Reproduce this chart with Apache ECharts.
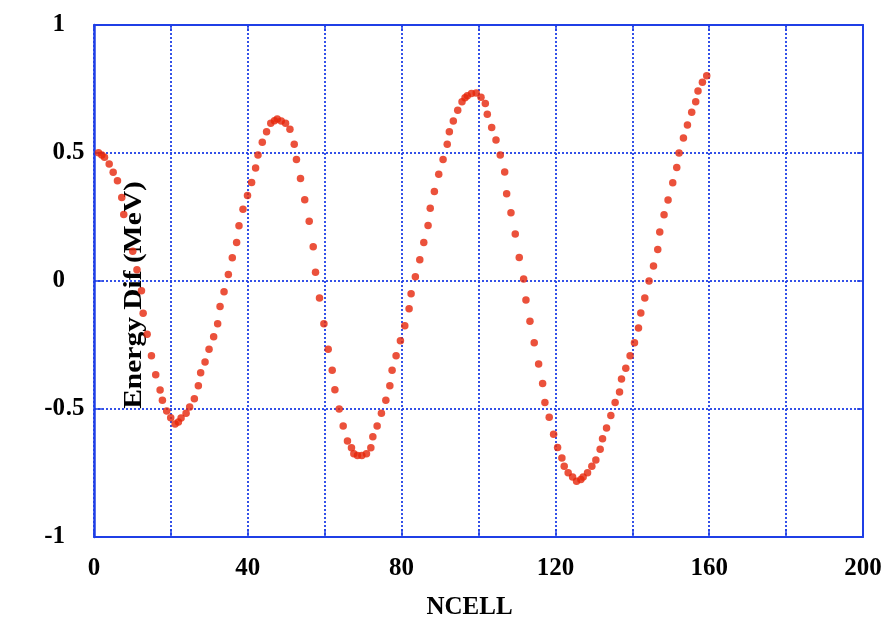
<!DOCTYPE html>
<html>
<head>
<meta charset="utf-8">
<script src="https://cdn.jsdelivr.net/npm/echarts@6/dist/echarts.min.js"></script>
<style>
  html, body { margin: 0; padding: 0; background: #fff; }
  #chart { width: 883px; height: 620px; }
</style>
</head>
<body>
<div id="chart"></div>
<script>
// Cell index of each sample
const ncell = [
  1.17, 2.03, 2.73, 3.95, 4.99, 6.10, 7.22, 7.74, 10.08, 11.17,
  12.34, 12.78, 13.82, 14.94, 16.05, 17.19, 17.79, 18.91, 19.95, 21.09,
  21.95, 22.65, 23.95, 24.88, 26.10, 27.14, 27.74, 28.88, 29.92, 31.12,
  32.16, 32.78, 33.82, 34.94, 35.97, 37.09, 37.71, 38.75, 39.92, 40.99,
  42.03, 42.65, 43.77, 44.88, 45.97, 46.94, 47.66, 48.70, 49.82, 50.96,
  52.08, 52.65, 53.71, 54.81, 55.97, 57.01, 57.61, 58.65, 59.79, 60.91,
  61.95, 62.65, 63.77, 64.81, 65.92, 66.96, 67.58, 68.52, 69.66, 70.86,
  72.00, 72.52, 73.64, 74.75, 75.90, 76.94, 77.53, 78.57, 79.69, 80.83,
  81.95, 82.47, 83.58, 84.73, 85.77, 86.88, 87.45, 88.52, 89.66, 90.78,
  91.87, 92.42, 93.45, 94.60, 95.71, 96.49, 97.09, 98.18, 99.40, 100.65,
  101.77, 102.29, 103.43, 104.55, 105.66, 106.81, 107.32, 108.44, 109.56, 110.60,
  111.74, 112.34, 113.38, 114.49, 115.64, 116.68, 117.27, 118.39, 119.53, 120.57,
  121.69, 122.29, 123.32, 124.47, 125.51, 126.62, 127.22, 128.36, 129.48, 130.52,
  131.64, 132.26, 133.30, 134.42, 135.53, 136.68, 137.19, 138.31, 139.43, 140.57,
  141.61, 142.21, 143.25, 144.36, 145.51, 146.62, 147.14, 148.26, 149.30, 150.52,
  151.56, 152.16, 153.30, 154.34, 155.45, 156.49, 157.09, 158.23, 159.35
];

// Energy difference (MeV) for each cell
const energyDif = [
  0.501, 0.492, 0.483, 0.457, 0.425, 0.392, 0.326, 0.260, 0.116, 0.044,
  -0.038, -0.126, -0.208, -0.292, -0.366, -0.426, -0.466, -0.508, -0.534, -0.559,
  -0.551, -0.535, -0.517, -0.492, -0.460, -0.409, -0.358, -0.316, -0.267, -0.218,
  -0.167, -0.100, -0.042, 0.025, 0.091, 0.150, 0.216, 0.280, 0.334, 0.385,
  0.441, 0.492, 0.542, 0.583, 0.616, 0.626, 0.633, 0.625, 0.616, 0.593,
  0.534, 0.475, 0.400, 0.317, 0.233, 0.134, 0.034, -0.066, -0.167, -0.267,
  -0.349, -0.425, -0.500, -0.566, -0.625, -0.651, -0.675, -0.682, -0.682, -0.675,
  -0.651, -0.608, -0.566, -0.517, -0.466, -0.409, -0.349, -0.292, -0.233, -0.175,
  -0.108, -0.050, 0.017, 0.083, 0.150, 0.217, 0.284, 0.350, 0.417, 0.475,
  0.534, 0.583, 0.625, 0.667, 0.700, 0.716, 0.724, 0.732, 0.734, 0.718,
  0.693, 0.651, 0.600, 0.551, 0.492, 0.426, 0.341, 0.267, 0.184, 0.092,
  0.008, -0.074, -0.157, -0.241, -0.324, -0.400, -0.475, -0.532, -0.599, -0.650,
  -0.691, -0.724, -0.749, -0.766, -0.782, -0.775, -0.766, -0.749, -0.724, -0.699,
  -0.657, -0.616, -0.574, -0.525, -0.475, -0.434, -0.383, -0.341, -0.292, -0.241,
  -0.184, -0.125, -0.066, 0.000, 0.059, 0.123, 0.191, 0.259, 0.316, 0.384,
  0.443, 0.500, 0.559, 0.609, 0.659, 0.700, 0.742, 0.776, 0.802
];

const xLabelValues = [0, 40, 80, 120, 160, 200];
const xTitle = 'NCELL';
const yTitle = 'Energy Dif (MeV)';

const blue = '#1f3fe6';
const dotRed = '#e6260a';
const serif = '"Liberation Serif", "DejaVu Serif", serif';

const points = ncell.map((x, i) => [x, energyDif[i]]);

const chart = echarts.init(document.getElementById('chart'), null, { renderer: 'canvas' });

// frame axes on the top and right: line and inward ticks only
const sideAxis = {
  axisLine: { show: true, onZero: false, lineStyle: { color: blue, width: 2 } },
  axisTick: { show: true, inside: true, length: 6, lineStyle: { color: blue, width: 1.5 } },
  axisLabel: { show: false },
  splitLine: { show: false }
};

const gridLine = { show: true, lineStyle: { color: blue, width: 1.8, type: [2, 2] } };

chart.setOption({
  animation: false,
  backgroundColor: '#ffffff',
  grid: { left: 94, right: 20, top: 25, bottom: 83, containLabel: false, outerBoundsMode: 'none' },
  xAxis: [
    {
      type: 'value', min: 0, max: 200, interval: 20, position: 'bottom',
      name: xTitle, nameLocation: 'middle', nameGap: 58,
      nameTextStyle: { fontFamily: serif, fontWeight: 'bold', fontSize: 25, color: '#000', padding: [0, 18, 0, 0] },
      axisLine: { show: true, onZero: false, lineStyle: { color: blue, width: 2 } },
      axisTick: { show: true, inside: true, length: 8, lineStyle: { color: blue, width: 1.5 } },
      axisLabel: {
        margin: 19, fontFamily: serif, fontWeight: 'bold', fontSize: 25, color: '#000',
        formatter: v => (xLabelValues.indexOf(v) >= 0 ? String(v) : '')
      },
      splitLine: gridLine
    },
    Object.assign({ type: 'value', min: 0, max: 200, interval: 20, position: 'top' }, sideAxis)
  ],
  yAxis: [
    {
      type: 'value', min: -1, max: 1, interval: 0.5, position: 'left',
      axisLine: { show: true, onZero: false, lineStyle: { color: blue, width: 2.5 } },
      axisTick: { show: true, inside: true, length: 8, lineStyle: { color: blue, width: 1.5 } },
      axisLabel: {
        margin: 9, color: '#000',
        formatter: v => {
          const s = String(v);
          const k = s.indexOf('.');
          const ip = k >= 0 ? s.slice(0, k) : s;
          const fp = k >= 0 ? s.slice(k) : ' ';
          return '{i|' + ip + '}{f|' + fp + '}';
        },
        rich: {
          i: { fontFamily: serif, fontWeight: 'bold', fontSize: 25, color: '#000' },
          f: { fontFamily: serif, fontWeight: 'bold', fontSize: 25, color: '#000', width: 20, align: 'left' }
        }
      },
      splitLine: gridLine
    },
    Object.assign({ type: 'value', min: -1, max: 1, interval: 0.5, position: 'right' }, sideAxis)
  ],
  graphic: [
    {
      type: 'text',
      x: 135, y: 295,
      rotation: Math.PI / 2,
      scaleX: 1.18,
      z: 1,
      style: {
        text: yTitle,
        fontFamily: serif, fontWeight: 'bold', fontSize: 25, fill: '#000',
        align: 'center', verticalAlign: 'middle'
      }
    }
  ],
  series: [
    {
      type: 'scatter',
      xAxisIndex: 0, yAxisIndex: 0,
      data: points,
      symbol: 'circle',
      symbolSize: 7.5,
      itemStyle: { color: dotRed },
      z: 5
    }
  ]
});
</script>
</body>
</html>
